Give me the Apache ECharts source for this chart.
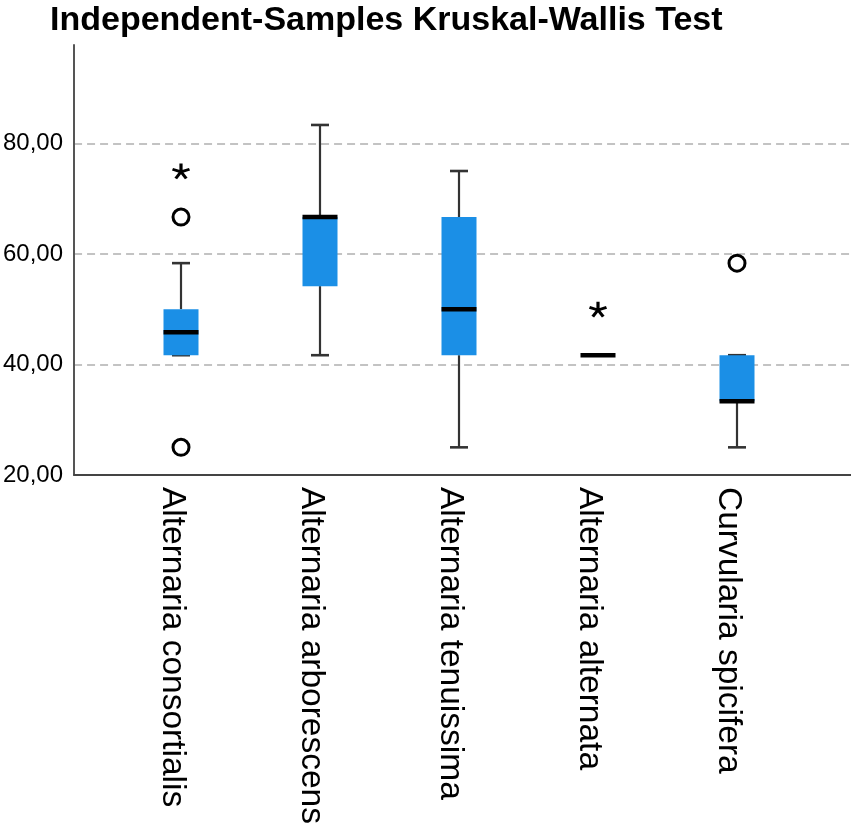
<!DOCTYPE html>
<html>
<head>
<meta charset="utf-8">
<script src="https://cdn.jsdelivr.net/npm/echarts@6/dist/echarts.min.js"></script>
<style>
html,body{margin:0;padding:0;background:#fff;}
#chart{width:851px;height:827px;}
</style>
</head>
<body>
<div id="chart"></div>
<script>
// ---- data ----
const categories = ['Alternaria consortialis', 'Alternaria arborescens', 'Alternaria tenuissima', 'Alternaria alternata', 'Curvularia spicifera'];
// [min, Q1, median, Q3, max]
const boxMin    = [41.67, 41.67, 25.00, 41.67, 25.00];
const boxQ1     = [41.67, 54.17, 41.67, 41.67, 33.33];
const boxMedian = [45.83, 66.67, 50.00, 41.67, 33.33];
const boxQ3     = [50.00, 66.67, 66.67, 41.67, 41.67];
const boxMax    = [58.33, 83.33, 75.00, 41.67, 41.67];
// outliers: [category index, value]
const circleOutliers = [[0, 66.67], [0, 25.00], [4, 58.33]];
const starOutliers   = [[0, 75.00], [3, 50.00]];
const yTicks = [20, 40, 60, 80];

const boxData = categories.map((c, i) => [i, boxMin[i], boxQ1[i], boxMedian[i], boxQ3[i], boxMax[i]]);

const BOX_W = 35, CAP_W = 18;
const chart = echarts.init(document.getElementById('chart'));
const yMin = 20, yMax = 97.8;
const fmt = v => v.toFixed(2).replace('.', ',');

const asterisk = 'path://M0,0L0,-10M0,0L9.51,-3.09M0,0L5.88,8.09M0,0L-5.88,8.09M0,0L-9.51,-3.09';

chart.setOption({
  animation: false,
  backgroundColor: '#fff',
  title: {
    text: 'Independent-Samples Kruskal-Wallis Test',
    left: 45, top: -1,
    textStyle: { fontFamily: 'Liberation Sans, Arial, sans-serif', fontWeight: 'bold', fontSize: 34, color: '#000' }
  },
  grid: [
    { left: 73, right: 0, top: 45, bottom: 352 },
    { left: 111.5, right: 44.5, top: 45, bottom: 352 }
  ],
  xAxis: [
    { gridIndex: 0, type: 'value', min: 0, max: 1,
      axisLine: { show: true, onZero: false, lineStyle: { color: '#444', width: 2 } },
      axisTick: { show: false }, axisLabel: { show: false }, splitLine: { show: false } },
    { gridIndex: 1, type: 'category', data: categories,
      axisLine: { show: false }, axisTick: { show: false }, splitLine: { show: false },
      axisLabel: { rotate: -90, margin: 12, fontSize: 33.5, lineHeight: 17, color: '#000',
        formatter: v => '\n' + v,
        fontFamily: 'Liberation Sans, Arial, sans-serif' } }
  ],
  yAxis: [
    { gridIndex: 0, type: 'value', min: yMin, max: yMax, interval: 20,
      axisLine: { show: true, lineStyle: { color: '#555', width: 2 } },
      axisTick: { show: false },
      axisLabel: { fontSize: 24, color: '#000', margin: 11, fontFamily: 'Liberation Sans, Arial, sans-serif',
        formatter: v => (yTicks.indexOf(v) >= 0 ? fmt(v) : ''), showMaxLabel: false },
      splitLine: { show: true, showMaxLine: false, showMinLine: false,
        lineStyle: { color: '#b0b0b0', width: 1.6, type: [8, 5] } } },
    { gridIndex: 1, type: 'value', min: yMin, max: yMax, show: false, splitLine: { show: false } }
  ],
  series: [
    {
      type: 'custom', xAxisIndex: 1, yAxisIndex: 1, z: 3,
      data: boxData,
      encode: { x: 0, y: [1, 2, 3, 4, 5] },
      renderItem: function (params, api) {
        const i = api.value(0);
        const pMin = api.coord([i, api.value(1)]);
        const pQ1 = api.coord([i, api.value(2)]);
        const pMed = api.coord([i, api.value(3)]);
        const pQ3 = api.coord([i, api.value(4)]);
        const pMax = api.coord([i, api.value(5)]);
        const x = pMed[0];
        const wStyle = { stroke: '#333', lineWidth: 2.2 };
        const children = [];
        children.push({ type: 'line', shape: { x1: x, y1: pMin[1], x2: x, y2: pQ1[1] }, style: wStyle });
        children.push({ type: 'line', shape: { x1: x, y1: pQ3[1], x2: x, y2: pMax[1] }, style: wStyle });
        children.push({ type: 'line', shape: { x1: x - CAP_W / 2, y1: pMin[1], x2: x + CAP_W / 2, y2: pMin[1] }, style: { stroke: '#333', lineWidth: 2.6 } });
        children.push({ type: 'line', shape: { x1: x - CAP_W / 2, y1: pMax[1], x2: x + CAP_W / 2, y2: pMax[1] }, style: { stroke: '#333', lineWidth: 2.6 } });
        if (Math.abs(pQ1[1] - pQ3[1]) > 0.5) {
          children.push({ type: 'rect', shape: { x: x - BOX_W / 2, y: pQ3[1], width: BOX_W, height: pQ1[1] - pQ3[1] },
            style: { fill: '#1b8fe6', stroke: null } });
        }
        children.push({ type: 'line', shape: { x1: x - BOX_W / 2, y1: pMed[1], x2: x + BOX_W / 2, y2: pMed[1] }, style: { stroke: '#000', lineWidth: 4.5 } });
        return { type: 'group', children: children };
      }
    },
    {
      type: 'scatter', xAxisIndex: 1, yAxisIndex: 1, z: 4,
      data: circleOutliers,
      symbol: 'circle', symbolSize: 16,
      itemStyle: { color: '#fff', borderColor: '#000', borderWidth: 3, opacity: 1 }
    },
    {
      type: 'scatter', xAxisIndex: 1, yAxisIndex: 1, z: 4,
      data: starOutliers,
      symbol: asterisk, symbolSize: [17, 15],
      itemStyle: { color: 'none', borderColor: '#000', borderWidth: 3, opacity: 1 }
    }
  ]
});
</script>
</body>
</html>
